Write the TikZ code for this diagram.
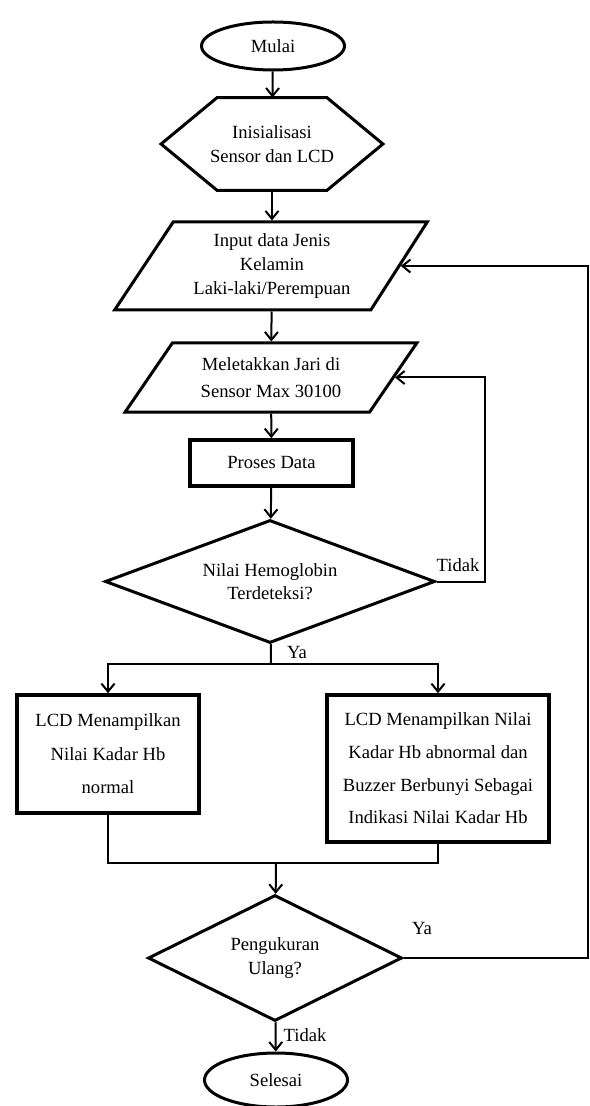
\documentclass[tikz,border=0pt]{standalone}
\usepackage{fontspec}
\setmainfont{Liberation Serif}
\usetikzlibrary{shapes.geometric, arrows.meta}

\begin{document}
\begin{tikzpicture}[x=0.5pt, y=-0.5pt,
    teks/.style = {font=\fontsize{9.3}{11.8}\selectfont, align=center, inner sep=0pt},
    terminal/.style = {teks, ellipse, draw, line width=1.5pt, minimum width=71.5pt, minimum height=24pt},
    io/.style = {teks, trapezium, draw, line width=1.5pt, trapezium stretches=true},
    proses/.style = {teks, rectangle, draw, line width=1.8pt},
    keputusan/.style = {teks, diamond, draw, line width=1.5pt},
    panah/.style = {-{Straight Barb[length=4pt, width=6.5pt]}, line width=1pt},
    garis/.style = {line width=1pt}]
    \useasboundingbox (0,0) rectangle (589,1106);

    \node (mulai) [terminal] at (273,46) {Mulai};
    \node (init) [teks, minimum width=110.5pt, minimum height=46pt] at (272,144) {Inisialisasi\\Sensor dan LCD};
    \draw [line width=1.5pt] (init.west) -- ([xshift=28pt]init.north west) -- ([xshift=-28pt]init.north east)
        -- (init.east) -- ([xshift=-28pt]init.south east) -- ([xshift=28pt]init.south west) -- cycle;
    \node (input) [io, trapezium left angle=54, trapezium right angle=125,
        minimum width=156.5pt, minimum height=44pt] at (272,266) {Input data Jenis\\Kelamin\\Laki-laki/Perempuan};
    \node (letak) [io, trapezium left angle=50, trapezium right angle=130,
        minimum width=146pt, minimum height=34.5pt, font=\fontsize{9.3}{13.5}\selectfont] at (271,377.5) {Meletakkan Jari di\\Sensor Max 30100};
    \node (proses) [proses, minimum width=81.5pt, minimum height=23pt] at (271.5,463) {Proses Data};
    \node (cek) [keputusan, minimum width=165pt, minimum height=61.5pt, aspect=2.7] at (270,581.5) {Nilai Hemoglobin\\Terdeteksi?};

    \node (normal) [proses, minimum width=91pt, minimum height=59pt,
        font=\fontsize{9.3}{16.8}\selectfont] at (108,754) {LCD Menampilkan\\Nilai Kadar Hb\\normal};
    \node (abnormal) [proses, minimum width=111pt, minimum height=73.5pt,
        font=\fontsize{9.3}{16.3}\selectfont] at (438,768.5) {LCD Menampilkan Nilai\\Kadar Hb abnormal dan\\Buzzer Berbunyi Sebagai\\Indikasi Nilai Kadar Hb};

    \node (ulang) [keputusan, minimum width=127pt, minimum height=63pt, aspect=2] at (275,958) {Pengukuran\\Ulang?};
    \node (selesai) [terminal, minimum height=27pt] at (276,1080) {Selesai};

    % label cabang
    \node (tidak1) [teks] at (458,565) {Tidak};
    \node (ya1) [teks] at (297,652) {Ya};
    \node (ya2) [teks] at (422,928) {Ya};
    \node (tidak2) [teks] at (305,1035) {Tidak};

    \coordinate (cabang) at (271,664);
    \coordinate (gabung) at (276,863);
    \coordinate (kiri) at (485,500);
    \coordinate (kanan) at (588,600);

\path [panah]
    (mulai) edge (init)
    (init) edge (input)
    (input) edge (letak)
    (letak) edge (proses)
    (proses) edge (cek);
    \draw [garis] (cek) -- (cabang);
    \draw [panah] (cabang) -| (normal);
    \draw [panah] (cabang) -| (abnormal);
    \draw [garis] (normal) |- (gabung) -| (abnormal);
    \draw [panah] (gabung) -- (ulang);
    \draw [panah] (ulang) -- (selesai);
    % kembali
    \draw [panah] (cek.east) -| (kiri) |- (letak.east);
    \draw [panah] (ulang.east) -| (kanan) |- (input.east);

\end{tikzpicture}
\end{document}
